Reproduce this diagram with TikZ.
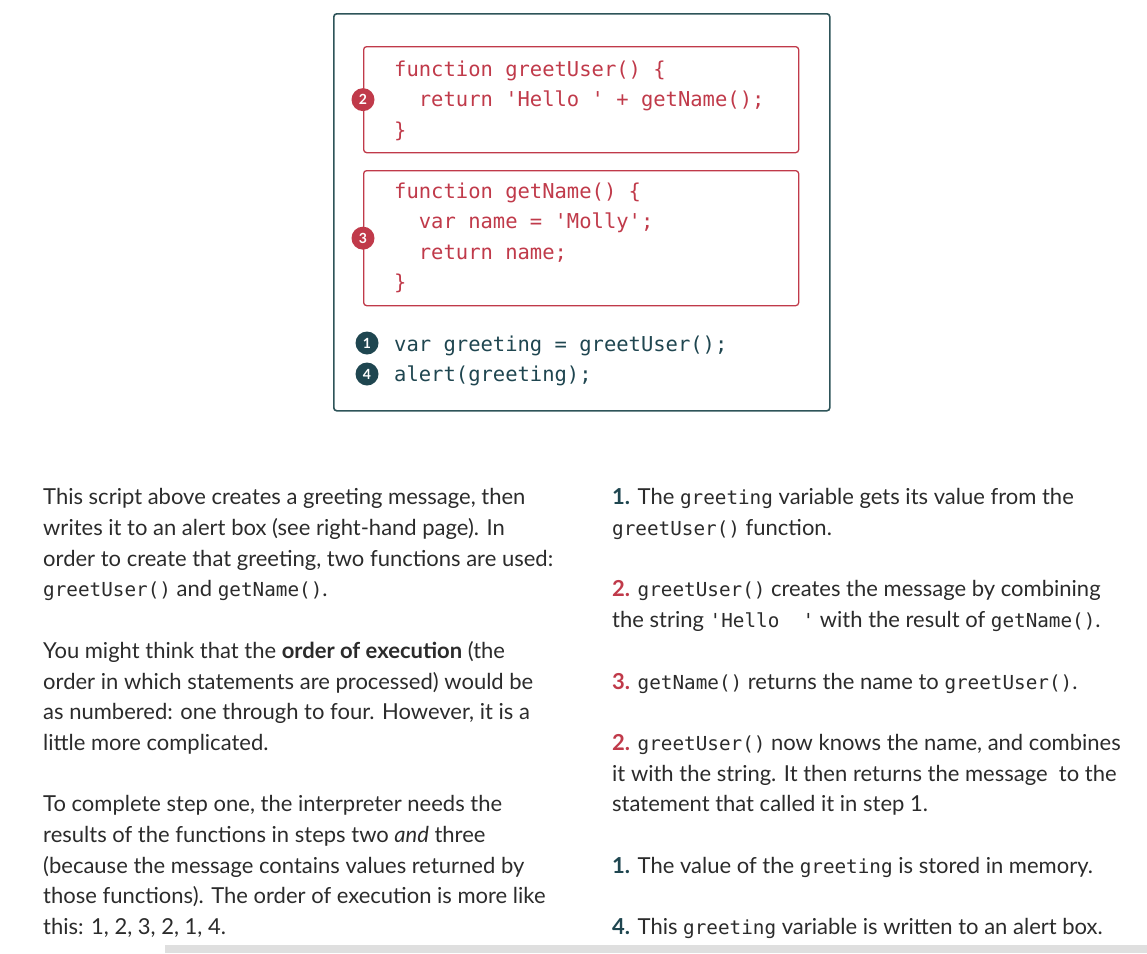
\documentclass[tikz,border=0pt]{standalone}
\usepackage{fontspec}
\setmainfont{Lato}
\newfontfamily\codefont{DejaVu Sans Mono}
\usetikzlibrary{positioning}

\definecolor{fnred}{HTML}{C03A4A}
\definecolor{stepteal}{HTML}{1F4650}
\definecolor{frameteal}{HTML}{2E5459}
\definecolor{bodygray}{HTML}{2B2B2B}

\newcommand\sq{\textquotesingle}
\newcommand\ic[1]{{\codefont\fontsize{19.3}{30.7}\selectfont #1}}
\newcommand\redno[1]{\textbf{\textcolor{fnred}{#1.}}}
\newcommand\tealno[1]{\textbf{\textcolor{stepteal}{#1.}}}
\newcommand\toprule{\rule{0pt}{25pt}}

\tikzset{
  fnbox/.style={draw=fnred, line width=1.3pt, rounded corners=3pt, anchor=north west, inner sep=0pt},
  code/.style={font=\codefont\fontsize{20.5}{30.5}\selectfont, align=left, anchor=north west, inner sep=0pt},
  badge/.style={circle, fill=#1, text=white, inner sep=0pt, minimum size=23pt, font=\bfseries\fontsize{14}{14}\selectfont},
  para/.style={font=\fontsize{22}{30.7}\selectfont, text=bodygray, align=left, anchor=north west, inner sep=0pt}
}

\begin{document}
\begin{tikzpicture}[x=1pt,y=-1pt]
\useasboundingbox (0,0) rectangle (1147,953);
\fill[gray!25] (165,945) rectangle (1147,953);

% code panel
\node[draw=frameteal, line width=1.6pt, rounded corners=3pt, anchor=north west, minimum width=496pt, minimum height=397pt, inner sep=0pt] (panel) at (333,13) {};
\node[fnbox, minimum width=435pt, minimum height=106pt] (greetbox) at (363,46) {};
\node[fnbox, minimum width=435pt, minimum height=135pt] (namebox) at (363,170) {};

\node[code, text=fnred] (greetcode) at (394,51) {\toprule function greetUser() \{\\\phantom{xx}return \sq Hello\ \sq\ + getName();\\\}};
\node[code, text=fnred] (namecode) at (394,173) {\toprule function getName() \{\\\phantom{xx}var name = \sq Molly\sq;\\\phantom{xx}return name;\\\}};
\node[code, text=stepteal] (maincode) at (394,326) {\toprule var greeting = greetUser();\\alert(greeting);};

\node[badge=fnred] (two) at (greetbox.west) {2};
\node[badge=fnred] (three) at (namebox.west) {3};
\node[badge=stepteal] (one) at (367,343) {1};
\node[badge=stepteal] (four) at (367,374) {4};

% left column
\node[para] (intro) at (43,479.6) {\toprule This script above creates a greeting message, then\\writes it to an alert box (see right-hand page). In\\order to create that greeting, two functions are used:\\\ic{greetUser()} and \ic{getName()}.};
\node[para] (order) at (43,633.1) {\toprule You might think that the \textbf{order of execution} (the\\order in which statements are processed) would be\\as numbered: one through to four. However, it is a\\little more complicated.};
\node[para] (stepone) at (43,786.6) {\toprule To complete step one, the interpreter needs the\\results of the functions in steps two \textit{and} three\\(because the message contains values returned by\\those functions). The order of execution is more like\\this: 1, 2, 3, 2, 1, 4.};

% right column
\node[para] (sa) at (612,479.6) {\toprule\tealno{1} The \ic{greeting} variable gets its value from the\\\ic{greetUser()} function.};
\node[para] (sb) at (612,571.7) {\toprule\redno{2} \ic{greetUser()} creates the message by combining\\the string \ic{\sq Hello\ \ \sq} with the result of \ic{getName()}.};
\node[para] (sc) at (612,663.8) {\toprule\redno{3} \ic{getName()} returns the name to \ic{greetUser()}.};
\node[para] (sd) at (612,725.2) {\toprule\redno{2} \ic{greetUser()} now knows the name, and combines\\it with the string. It then returns the message\ \ to the\\statement that called it in step 1.};
\node[para] (se) at (612,848) {\toprule\tealno{1} The value of the \ic{greeting} is stored in memory.};
\node[para] (sf) at (612,909.4) {\toprule\tealno{4} This \ic{greeting} variable is written to an alert box.};

\end{tikzpicture}
\end{document}
